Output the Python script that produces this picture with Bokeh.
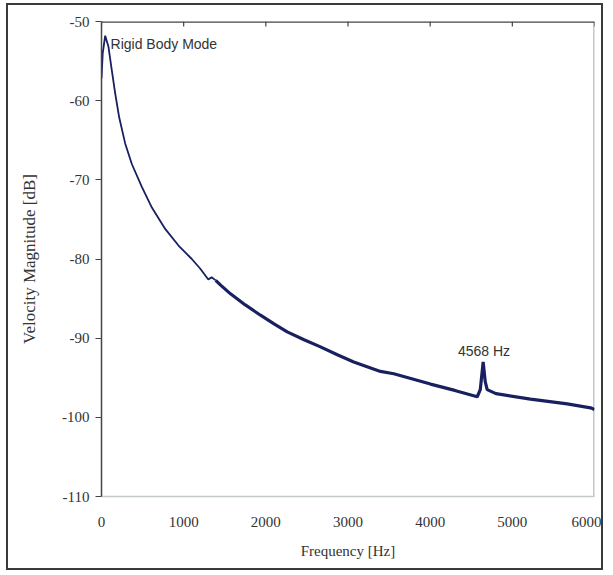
from bokeh.plotting import figure
from bokeh.models import FixedTicker, Range1d
from bokeh.core.properties import value
from bokeh.embed import file_html
from bokeh.resources import INLINE

# Data
freq_hz = [0, 15, 45, 85, 126, 167, 215, 288, 369, 491, 613, 775, 937, 1099, 1200,
           1300, 1340, 1390, 1450, 1570, 1750, 1935, 2100, 2260, 2465, 2665, 2870,
           3070, 3395, 3557, 4004, 4300, 4573, 4610, 4645, 4670, 4694, 4800, 5221,
           5668, 5952, 6000]
velocity_db = [-57.2, -54.0, -51.8, -53.2, -56.2, -59.1, -62.1, -65.4, -68.0, -70.9,
               -73.5, -76.2, -78.3, -80.0, -81.2, -82.6, -82.3, -82.7, -83.3, -84.4,
               -85.8, -87.1, -88.2, -89.2, -90.2, -91.1, -92.1, -93.0, -94.2, -94.5,
               -95.8, -96.6, -97.4, -96.5, -93.0, -95.5, -96.5, -97.0, -97.7, -98.3,
               -98.8, -99.0]

x_ticks = [0, 1000, 2000, 3000, 4000, 5000, 6000]
y_ticks = [-110, -100, -90, -80, -70, -60, -50]
y_tick_labels = ["-110", "-100", "-90", "-80", "-70", "-60", "-50"]

label_texts = ["Rigid Body Mode", "4568 Hz"]
label_x = [110, 4655]
label_y = [-52.9, -91.6]

X_MIN, X_MAX = 0, 6000
Y_MIN, Y_MAX = -110, -50

W, H = 597, 567
MB_L, MB_T, MB_R, MB_B = 93, 16, 11, 76

p = figure(width=W, height=H, output_backend="svg", toolbar_location=None,
           x_range=Range1d(X_MIN, X_MAX), y_range=Range1d(Y_MIN, Y_MAX),
           min_border_left=MB_L, min_border_top=MB_T, min_border_right=MB_R,
           min_border_bottom=MB_B)
p.styles = {"border": "2px solid #3a3a3a", "margin-left": "6px", "margin-top": "3px"}
p.background_fill_color = "white"
p.border_fill_color = "white"
p.grid.visible = False
p.outline_line_color = None

serif = "Liberation Serif"

xa = p.xaxis[0]
xa.ticker = FixedTicker(ticks=x_ticks)
xa.axis_line_color = "#c3c9c9"
xa.axis_line_width = 1.5
xa.major_tick_out = 0
xa.major_tick_in = 0
xa.minor_tick_out = 0
xa.minor_tick_in = 0
xa.major_label_text_font = serif
xa.major_label_text_font_size = "15px"
xa.major_label_text_color = "#333333"
xa.major_label_standoff = 20
xa.axis_label = "Frequency [Hz]"
xa.axis_label_text_font = serif
xa.axis_label_text_font_style = "normal"
xa.axis_label_text_font_size = "15px"
xa.axis_label_text_color = "#333333"
xa.axis_label_standoff = 13

ya = p.yaxis[0]
ya.ticker = FixedTicker(ticks=y_ticks)
ya.major_label_overrides = {t: s for t, s in zip(y_ticks, y_tick_labels)}
ya.axis_line_color = "#444444"
ya.axis_line_width = 1.5
ya.major_tick_line_color = "#444444"
ya.major_tick_out = 6
ya.major_tick_in = 0
ya.minor_tick_out = 0
ya.minor_tick_in = 0
ya.major_label_text_font = serif
ya.major_label_text_font_size = "15px"
ya.major_label_text_color = "#333333"
ya.major_label_standoff = 6
ya.axis_label = "Velocity Magnitude [dB]"
ya.axis_label_text_font = serif
ya.axis_label_text_font_style = "normal"
ya.axis_label_text_font_size = "17px"
ya.axis_label_text_color = "#333333"
ya.axis_label_standoff = 20

# right border (light) and top border (dark, with inward 5 px ticks)
frame_h = H - MB_T - MB_B
tick_len = 5 * (Y_MAX - Y_MIN) / frame_h
p.segment(x0=[X_MAX], y0=[Y_MIN], x1=[X_MAX], y1=[Y_MAX],
          line_color="#c3c9c9", line_width=3)
p.segment(x0=[X_MIN], y0=[Y_MAX], x1=[X_MAX], y1=[Y_MAX],
          line_color="#444444", line_width=2.4)
p.segment(x0=x_ticks, y0=[Y_MAX] * len(x_ticks), x1=x_ticks,
          y1=[Y_MAX - tick_len] * len(x_ticks), line_color="#444444", line_width=1.2)

# curve: smooth part and noisy (thicker) part
k = next(i for i, f in enumerate(freq_hz) if f >= 1390)
p.line(freq_hz[:k + 1], velocity_db[:k + 1], line_color="#18205f", line_width=1.8)
p.line(freq_hz[k:], velocity_db[k:], line_color="#18205f", line_width=3.2)

p.text(x=label_x[:1], y=label_y[:1], text=label_texts[:1],
       text_font=value("Liberation Sans"), text_font_size="14px",
       text_color="#333333", text_align="left", text_baseline="middle")
p.text(x=label_x[1:], y=label_y[1:], text=label_texts[1:],
       text_font=value("Liberation Sans"), text_font_size="14px",
       text_color="#333333", text_align="center", text_baseline="middle")

open("out.html", "w").write(file_html(p, INLINE))
